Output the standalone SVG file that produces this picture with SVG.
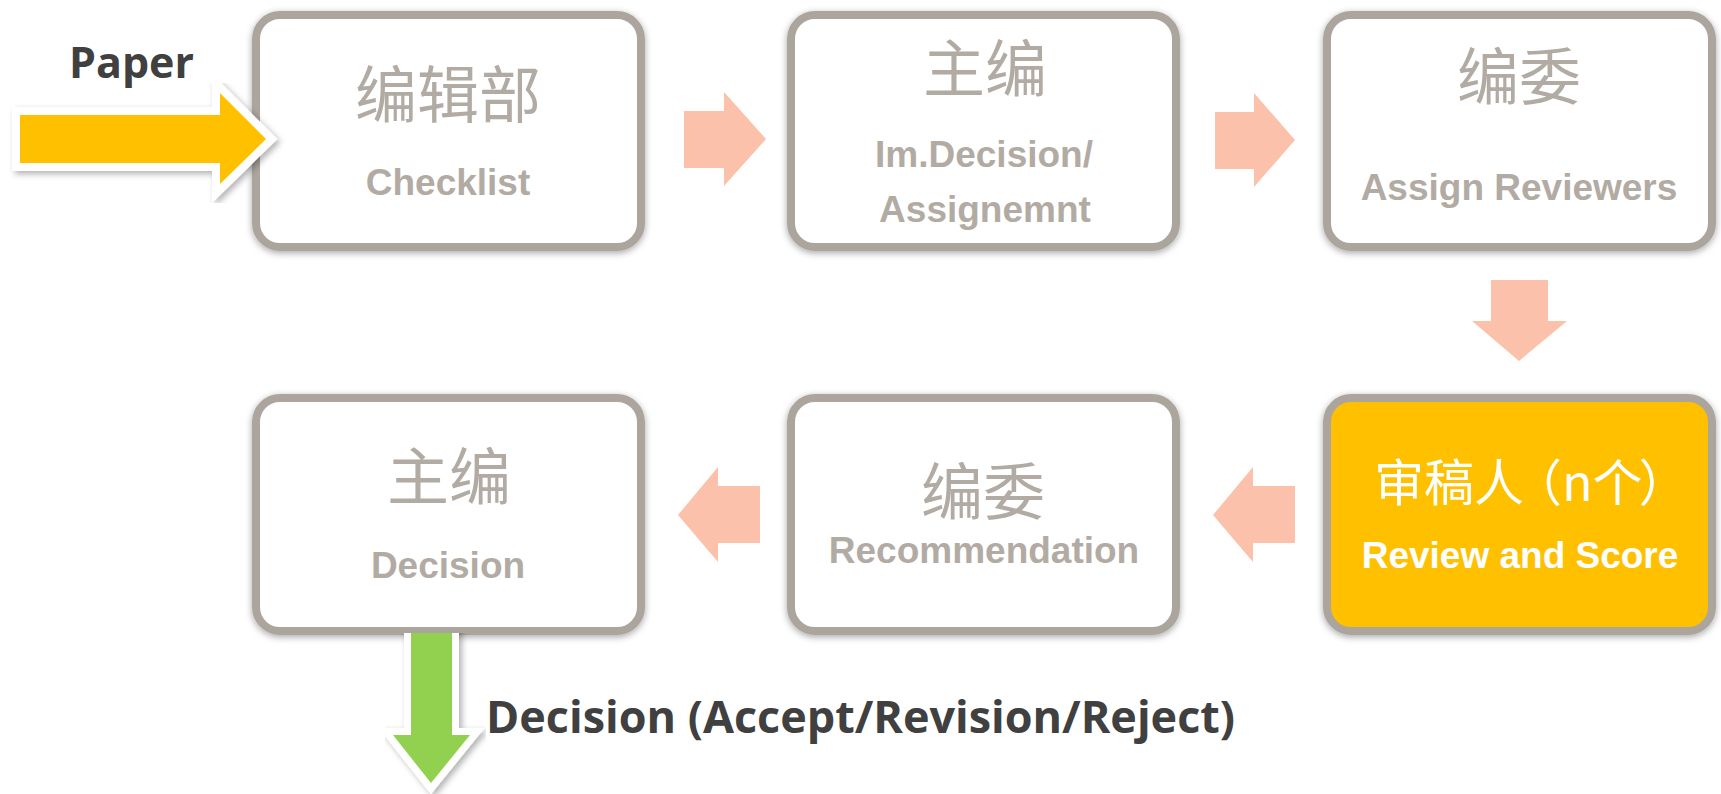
<svg xmlns="http://www.w3.org/2000/svg" width="1721" height="794" viewBox="0 0 1721 794">
<defs>
<filter id="boxShadow" x="-10%" y="-10%" width="120%" height="120%">
<feDropShadow dx="0" dy="2" stdDeviation="3.5" flood-color="#000" flood-opacity="0.35"/>
</filter>
<filter id="arrowShadow" x="-10%" y="-10%" width="130%" height="130%">
<feDropShadow dx="3" dy="3" stdDeviation="3" flood-color="#000" flood-opacity="0.3"/>
</filter>
<clipPath id="belowBox"><rect x="0" y="633" width="1721" height="161"/></clipPath>
</defs>
<style>
.box{fill:#ffffff;stroke:#aca59e;stroke-width:8;filter:url(#boxShadow)}
.box.hl{fill:#ffc000}
.cjk{font-family:"Noto Sans CJK SC","Noto Sans",sans-serif;font-size:62px;fill:#b2aba4;text-anchor:middle}
.en{font-family:"Liberation Sans",Arial,sans-serif;font-weight:bold;font-size:37px;fill:#b2aba4;text-anchor:middle}
.wht{fill:#ffffff}
.flow{fill:#fcc1aa}
.lbl{font-family:"Open Sans","Noto Sans",sans-serif;font-weight:bold;fill:#404040}
</style>
<rect width="1721" height="794" fill="#ffffff"/>

<g id="node-editorial">
<rect class="box" x="256" y="15" width="385" height="232" rx="24"/>
<text class="cjk" x="448" y="118">编辑部</text>
<text class="en" x="448" y="195">Checklist</text>
</g>

<g id="node-chief1">
<rect class="box" x="791" y="15" width="385" height="232" rx="24"/>
<text class="cjk" x="985" y="92">主编</text>
<text class="en" x="984" y="167">Im.Decision/</text>
<text class="en" x="985" y="222">Assignemnt</text>
</g>

<g id="node-board1">
<rect class="box" x="1327" y="15" width="385" height="232" rx="24"/>
<text class="cjk" x="1519" y="100">编委</text>
<text class="en" x="1519" y="200">Assign Reviewers</text>
</g>

<g id="node-reviewers">
<rect class="box hl" x="1327" y="398" width="385" height="233" rx="24"/>
<text class="cjk wht" x="1374" y="501" style="text-anchor:start;font-size:50px">审稿人<tspan dx="-12">（n个</tspan><tspan dx="-4">）</tspan></text>
<text class="en wht" x="1520" y="568">Review and Score</text>
</g>

<g id="node-board2">
<rect class="box" x="791" y="398" width="385" height="233" rx="24"/>
<text class="cjk" x="983" y="515">编委</text>
<text class="en" x="984" y="563">Recommendation</text>
</g>

<g id="node-chief2">
<rect class="box" x="256" y="398" width="385" height="233" rx="24"/>
<text class="cjk" x="449" y="500">主编</text>
<text class="en" x="448" y="578">Decision</text>
</g>

<g id="connectors">
<polygon class="flow" points="684,111 724,111 724,92 766,139 724,186 724,168 684,168"/>
<polygon class="flow" points="1215,112 1254,112 1254,93 1295,140 1254,187 1254,169 1215,169"/>
<polygon class="flow" points="1491,280 1548,280 1548,321 1567,321 1519,361 1472,321 1491,321"/>
<polygon class="flow" points="1295,486 1253,486 1253,467 1213,515 1253,562 1253,543 1295,543"/>
<polygon class="flow" points="760,486 718,486 718,467 678,515 718,562 718,543 760,543"/>
<g filter="url(#arrowShadow)">
<polygon points="20,115 220,115 220,93 266,139 220,184 220,163 20,163" fill="#ffc000" stroke="#ffffff" stroke-width="16" stroke-linejoin="miter" stroke-miterlimit="10" paint-order="stroke"/>
</g>
<g clip-path="url(#belowBox)">
<g filter="url(#arrowShadow)">
<polygon points="411,615 452,615 452,735 470,735 431,783 393,735 411,735" fill="#92d050" stroke="#ffffff" stroke-width="14" stroke-linejoin="miter" stroke-miterlimit="10" paint-order="stroke"/>
</g>
</g>
</g>

<g id="labels">
<text class="lbl" x="69" y="78" font-size="43" textLength="125" lengthAdjust="spacingAndGlyphs">Paper</text>
<text class="lbl" x="486" y="733" font-size="44" textLength="749" lengthAdjust="spacingAndGlyphs">Decision (Accept/Revision/Reject)</text>
</g>
</svg>
